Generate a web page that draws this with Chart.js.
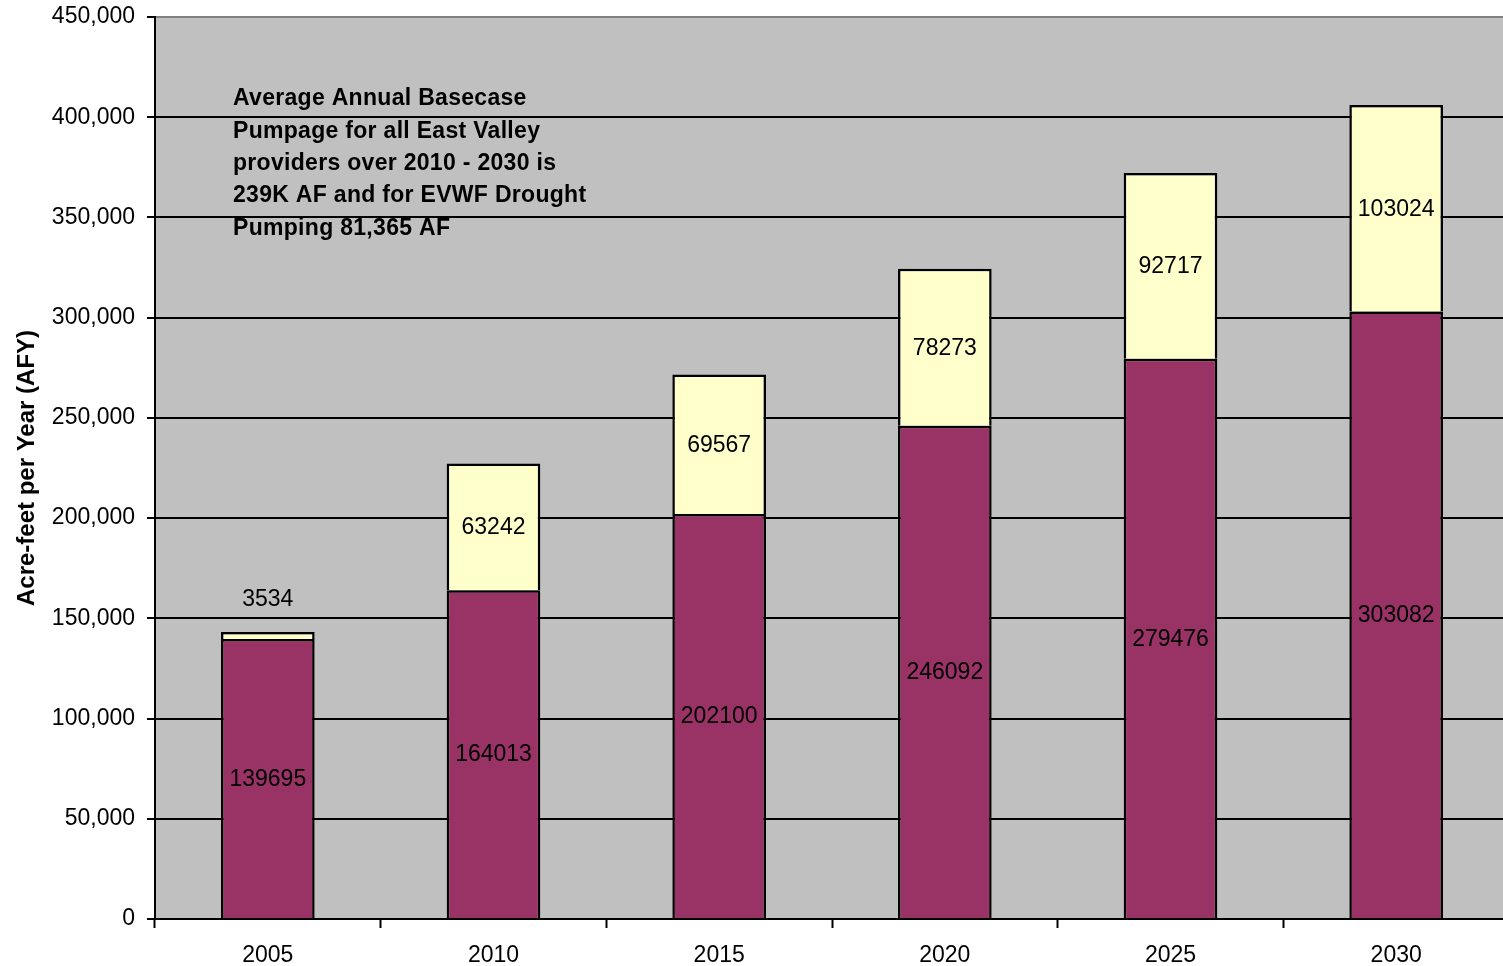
<!DOCTYPE html>
<html>
<head>
<meta charset="utf-8">
<title>East Valley Pumpage</title>
<script src="https://cdn.jsdelivr.net/npm/chart.js@4.4.1/dist/chart.umd.min.js"></script>
<style>
  html, body { margin: 0; padding: 0; background: #fff; overflow: hidden; }
  #wrap { width: 1512px; height: 966px; }
</style>
</head>
<body>
<div id="wrap"><canvas id="pumpChart" width="1512" height="966"></canvas></div>
<script>
const years = ["2005", "2010", "2015", "2020", "2025", "2030"];
const basecase = [139695, 164013, 202100, 246092, 279476, 303082];
const drought = [3534, 63242, 69567, 78273, 92717, 103024];

const noteLines = [
  "Average Annual Basecase",
  "Pumpage for all East Valley",
  "providers over 2010 - 2030 is",
  "239K AF and for EVWF Drought",
  "Pumping 81,365 AF"
];

const FONT = "'Liberation Sans', Arial, sans-serif";
Chart.defaults.font.family = FONT;
Chart.defaults.color = "#000";

// gray plot background behind the bars
const plotBackground = {
  id: "plotBackground",
  beforeDraw(chart) {
    const { ctx, chartArea } = chart;
    ctx.save();
    ctx.fillStyle = "#C0C0C0";
    ctx.fillRect(chartArea.left, chartArea.top, chartArea.right - chartArea.left, chartArea.bottom - chartArea.top);
    ctx.restore();
  }
};

// numbers written on each segment; thin segments get theirs above the bar
const valueLabels = {
  id: "valueLabels",
  afterDatasetsDraw(chart) {
    const ctx = chart.ctx;
    ctx.save();
    ctx.font = "23px " + FONT;
    ctx.fillStyle = "#000";
    ctx.textAlign = "center";
    ctx.textBaseline = "middle";
    chart.data.datasets.forEach((ds, i) => {
      chart.getDatasetMeta(i).data.forEach((bar, j) => {
        const h = bar.base - bar.y;
        let y = (bar.y + bar.base) / 2 + 1;
        if (h < 24) y = bar.y - 32;
        ctx.fillText(ds.data[j], bar.x, y);
      });
    });
    ctx.restore();
  }
};

// text box in the upper left of the plot
const noteText = {
  id: "noteText",
  afterDraw(chart) {
    const { ctx, chartArea } = chart;
    ctx.save();
    ctx.font = "bold 23px " + FONT;
    ctx.letterSpacing = "0.3px";
    ctx.fillStyle = "#000";
    ctx.textAlign = "left";
    ctx.textBaseline = "middle";
    noteLines.forEach((line, i) => {
      ctx.fillText(line, chartArea.left + 78, chartArea.top + 82 + i * 32.3);
    });
    ctx.restore();
  }
};

const ctx = document.getElementById("pumpChart").getContext("2d");

new Chart(ctx, {
  type: "bar",
  data: {
    labels: years,
    datasets: [
      {
        label: "Basecase Pumpage",
        data: basecase,
        backgroundColor: "#993366",
        borderColor: "#000",
        borderWidth: 2.5
      },
      {
        label: "EVWF Drought Pumping",
        data: drought,
        backgroundColor: "#FFFFCC",
        borderColor: "#000",
        borderWidth: 2.5
      }
    ]
  },
  options: {
    responsive: false,
    animation: false,
    devicePixelRatio: 1,
    barPercentage: 0.415,
    categoryPercentage: 1,
    layout: { padding: { top: 17, right: 3, left: 0, bottom: 0 } },
    plugins: {
      legend: { display: false },
      tooltip: { enabled: false }
    },
    scales: {
      x: {
        stacked: true,
        afterFit: (s) => { s.height = 47; },
        border: { color: "#000", width: 2 },
        grid: {
          offset: true,
          drawOnChartArea: false,
          drawTicks: true,
          tickLength: 9,
          tickColor: "#000",
          tickWidth: 2
        },
        ticks: {
          font: { size: 23 },
          color: "#000",
          padding: 14
        }
      },
      y: {
        stacked: true,
        min: 0,
        max: 450000,
        afterFit: (s) => {
          s.width = 155;
          s.paddingTop = 0;
          s.paddingBottom = 0;
        },
        border: { color: "#000", width: 2 },
        grid: {
          color: (c) => (c.tick && c.tick.value === 450000 ? "#808080" : "#000"),
          lineWidth: 2,
          tickLength: 8,
          tickColor: "#000",
          tickWidth: 2
        },
        ticks: {
          stepSize: 50000,
          font: { size: 23 },
          color: "#000",
          padding: 12,
          callback: (v) => v.toLocaleString("en-US")
        },
        title: {
          display: true,
          text: "Acre-feet per Year (AFY)",
          font: { size: 24, weight: "bold" },
          color: "#000",
          padding: { top: 13, bottom: 0 }
        }
      }
    }
  },
  plugins: [plotBackground, valueLabels, noteText]
});
</script>
</body>
</html>
